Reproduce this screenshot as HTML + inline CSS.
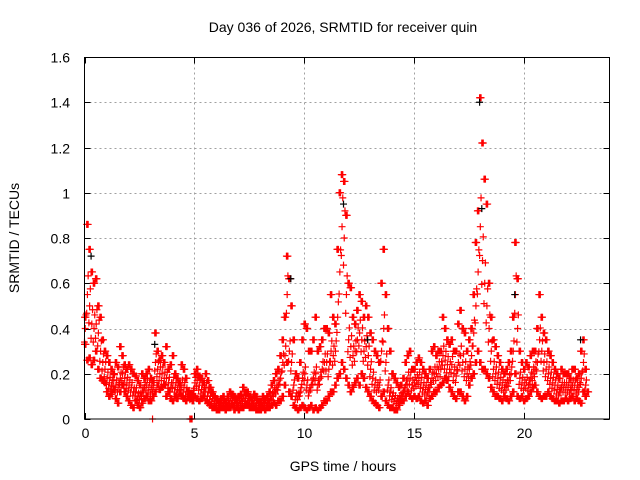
<!DOCTYPE html>
<html><head><meta charset="utf-8"><style>
body{margin:0;background:#fff}
svg{display:block;font-family:"Liberation Sans",sans-serif}
</style></head><body>
<svg id="chart" width="640" height="480" viewBox="0 0 640 480">
<rect width="640" height="480" fill="#fff"/>
<g id="grid"></g>
<g id="ticks"></g>
<g id="marks"></g>
<rect x="84.5" y="57.5" width="525" height="361.5" fill="none" stroke="#000" stroke-width="1"/>
<text x="343" y="32" font-size="14" text-anchor="middle">Day 036 of 2026, SRMTID for receiver quin</text>
<text x="343" y="471" font-size="14" text-anchor="middle">GPS time / hours</text>
<text transform="translate(19,238) rotate(-90)" font-size="14" text-anchor="middle">SRMTID / TECUs</text>
</svg>
<script>
const xTicks=[0,5,10,15,20];
const yTicks=[0,0.2,0.4,0.6,0.8,1,1.2,1.4,1.6];
const yTickLabels=["0","0.2","0.4","0.6","0.8","1","1.2","1.4","1.6"];
const upper=[.45,.86,.75,.65,.60,.62,.50,.45,.35,.30,
.28,.25,.22,.20,.25,.23,.32,.28,.24,.22,
.24,.22,.20,.19,.17,.15,.20,.18,.20,.22,
.18,.17,.38,.30,.26,.28,.25,.32,.22,.24,
.28,.20,.18,.16,.24,.22,.18,.12,.11,.10,
.20,.22,.19,.18,.16,.20,.17,.14,.12,.10,
.09,.08,.09,.10,.08,.10,.12,.11,.10,.09,
.10,.11,.14,.12,.12,.10,.09,.11,.10,.08,
.08,.10,.09,.10,.12,.15,.17,.20,.22,.28,
.35,.45,.72,.62,.50,.35,.20,.18,.25,.35,
.42,.40,.30,.30,.35,.45,.30,.32,.35,.40,
.40,.38,.55,.45,.42,.75,1.00,1.08,1.05,.90,
.60,.58,.45,.42,.48,.55,.52,.45,.50,.45,
.38,.35,.30,.28,.25,.60,.75,.55,.40,.30,
.20,.18,.16,.14,.15,.18,.25,.28,.30,.22,
.22,.25,.27,.25,.22,.20,.18,.22,.30,.32,
.28,.30,.30,.45,.40,.35,.33,.35,.30,.30,
.42,.48,.40,.38,.30,.35,.40,.55,.78,.92,
1.42,1.22,1.06,.95,.60,.45,.35,.32,.28,.25,
.22,.20,.22,.25,.30,.45,.78,.62,.30,.25,
.22,.25,.23,.28,.30,.30,.40,.55,.45,.38,
.35,.30,.28,.25,.22,.20,.18,.22,.20,.20,
.20,.18,.22,.22,.18,.20,.30,.35,.22];
const mid=[.40,.55,.50,.42,.40,.42,.38,.30,.25,.22,
.18,.16,.15,.17,.15,.14,.18,.20,.18,.16,
.15,.14,.12,.12,.10,.10,.12,.14,.15,.14,
.13,.14,.25,.22,.20,.20,.18,.18,.16,.14,
.16,.14,.13,.13,.15,.14,.12,.11,.10,.11,
.16,.17,.15,.13,.12,.14,.12,.10,.09,.08,
.07,.06,.07,.07,.06,.07,.08,.08,.07,.07,
.07,.08,.09,.09,.08,.08,.07,.08,.07,.06,
.06,.07,.07,.07,.08,.10,.12,.13,.15,.18,
.25,.28,.55,.30,.25,.15,.10,.10,.12,.18,
.20,.15,.12,.15,.18,.20,.15,.18,.22,.25,
.25,.22,.30,.28,.30,.45,.65,.85,.80,.55,
.35,.32,.28,.30,.35,.38,.35,.30,.32,.28,
.22,.18,.15,.14,.15,.30,.40,.25,.15,.12,
.10,.09,.08,.09,.10,.12,.15,.18,.18,.15,
.16,.17,.18,.16,.14,.13,.12,.14,.18,.20,
.20,.22,.22,.28,.26,.24,.22,.24,.20,.19,
.25,.28,.25,.22,.20,.22,.28,.38,.50,.65,
.85,.70,.60,.50,.40,.30,.22,.20,.18,.16,
.15,.14,.15,.17,.20,.30,.55,.40,.18,.16,
.15,.16,.15,.18,.20,.22,.25,.35,.30,.25,
.22,.20,.18,.16,.15,.13,.12,.14,.14,.14,
.14,.13,.15,.15,.13,.14,.18,.25,.15];
const lower=[.33,.26,.27,.24,.26,.30,.22,.18,.17,.16,
.12,.10,.11,.13,.09,.07,.12,.15,.12,.10,
.08,.06,.05,.08,.06,.05,.07,.09,.10,.08,
.08,.10,.12,.15,.13,.14,.15,.10,.12,.09,
.08,.10,.09,.11,.10,.09,.08,.10,.09,.08,
.10,.09,.08,.09,.10,.08,.07,.06,.05,.05,
.04,.04,.05,.05,.04,.05,.05,.06,.04,.05,
.04,.05,.05,.06,.06,.05,.05,.05,.04,.04,
.04,.05,.04,.05,.05,.06,.07,.06,.08,.08,
.10,.15,.25,.12,.10,.06,.05,.04,.05,.06,
.05,.04,.05,.06,.04,.05,.04,.05,.06,.08,
.08,.10,.12,.12,.15,.18,.20,.25,.22,.18,
.15,.12,.14,.16,.18,.15,.20,.18,.14,.12,
.10,.08,.07,.06,.05,.10,.12,.08,.06,.05,
.05,.04,.04,.06,.08,.08,.10,.12,.10,.09,
.10,.09,.10,.08,.07,.08,.06,.09,.10,.12,
.12,.14,.15,.16,.18,.17,.14,.12,.10,.09,
.12,.12,.10,.08,.10,.15,.18,.20,.25,.30,
.25,.22,.22,.20,.18,.14,.12,.10,.10,.09,
.08,.10,.09,.08,.10,.12,.20,.10,.09,.10,
.08,.09,.10,.12,.14,.15,.12,.10,.09,.10,
.10,.12,.10,.09,.08,.08,.07,.08,.08,.09,
.08,.09,.10,.08,.09,.08,.07,.12,.10,.12];
const zeroTimes=[3.1,4.8,4.85,4.9];
const blackTimes=[0.3,3.2,9.4,11.8,12.9,18.0,18.1,19.6,22.6];
const blackValues=[0.72,0.33,0.62,0.95,0.35,1.40,0.93,0.55,0.35];
const stepHours=0.1;

const NS="http://www.w3.org/2000/svg";
const X0=84.5,PXH=21.95,Y0=419,PXU=226.25;
function xs(t){return X0+t*PXH;}
function ys(v){return Y0-v*PXU;}
const grid=document.getElementById('grid'),ticks=document.getElementById('ticks'),marks=document.getElementById('marks');
function line(g,x1,y1,x2,y2,st,dash){const l=document.createElementNS(NS,'line');l.setAttribute('x1',x1);l.setAttribute('y1',y1);l.setAttribute('x2',x2);l.setAttribute('y2',y2);l.setAttribute('stroke',st);if(dash)l.setAttribute('stroke-dasharray',dash);g.appendChild(l);return l;}
function txt(x,y,s,anchor){const t=document.createElementNS(NS,'text');t.setAttribute('x',x);t.setAttribute('y',y);t.setAttribute('font-size','14');t.setAttribute('text-anchor',anchor);t.textContent=s;ticks.appendChild(t);return t;}
xTicks.forEach(v=>{const x=Math.round(xs(v))+0.5;
if(v>0){const g=line(grid,x,57.5,x,419,'#a0a0a0','2,3');}
line(ticks,x,419,x,413,'#000');line(ticks,x,57.5,x,63.5,'#000');
const t=txt(x,438,String(v),'middle');

});
yTicks.forEach((v,i)=>{const y=Math.round(ys(v))+0.5;
if(v>0&&v<1.6){const g=line(grid,84.5,y,609.5,y,'#a0a0a0','2,3');}
line(ticks,84.5,y,90.5,y,'#000');line(ticks,609.5,y,603.5,y,'#000');
const t=txt(70,y+5,yTickLabels[i],'end');

});
function plus(t,v,col,name){const p=document.createElementNS(NS,'path');const x=xs(t),y=ys(v);
p.setAttribute('d',`M${x-3.5},${y}H${x+3.5}M${x},${y-3.5}V${y+3.5}`);p.setAttribute('stroke',col);p.setAttribute('stroke-width','1.2');


marks.appendChild(p);}
const copies=[0,0.033,0.066];
[upper,mid,lower].forEach((arr,k)=>{arr.forEach((v,i)=>{copies.forEach((dt,j)=>{
const t=i*stepHours+dt;
const vv=k===1?v*(0.85+0.15*j):v;
plus(t,vv,'#f00','srmtid-point');});});});
zeroTimes.forEach(t=>plus(t,0,'#f00','srmtid-zero-point'));
blackTimes.forEach((t,i)=>plus(t,blackValues[i],'#000','srmtid-point-alt'));
</script>
</body></html>
